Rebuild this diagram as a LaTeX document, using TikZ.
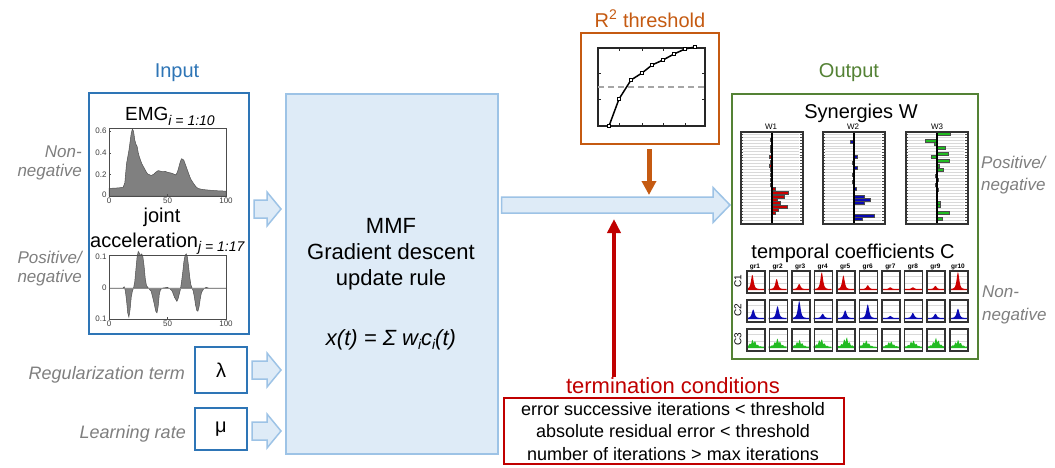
\documentclass[tikz,border=0pt]{standalone}
\usepackage{fontspec}
\setmainfont{Liberation Sans}
\usetikzlibrary{calc,arrows.meta}
\definecolor{inblue}{HTML}{2E75B6}
\definecolor{lblue}{HTML}{DEEBF7}
\definecolor{lbord}{HTML}{9DC3E6}
\definecolor{orng}{HTML}{C55A11}
\definecolor{grn}{HTML}{548235}
\definecolor{dred}{HTML}{C00000}
\definecolor{gtxt}{HTML}{7F7F7F}
\definecolor{pfill}{HTML}{808080}
\definecolor{pedge}{HTML}{505050}
\definecolor{cred}{HTML}{CC0000}
\definecolor{cblue}{HTML}{0A0AB4}
\definecolor{cgreen}{HTML}{22BB22}
\newcommand\fsz[1]{\fontsize{#1}{#1}\selectfont}
\newcommand\blockarrow[6]{%
  \path[#6] let \p1=(#1), \p2=(#2) in
   (\x1,{\y1+#3}) -- ({\x2-#5},{\y1+#3}) -- ({\x2-#5},{\y1+#4}) -- (\x2,\y1)
   -- ({\x2-#5},{\y1-#4}) -- ({\x2-#5},{\y1-#3}) -- (\x1,{\y1-#3}) -- cycle;}
\newcommand\wpanel[5]{%
  \foreach \k in {1,...,30} {%
    \draw[black!15, line width=0.7] ({#2+3},{131+\k*2.97}) -- ({#2+59},{131+\k*2.97});
    \draw[black!70, line width=0.5] ({#2},{131+\k*2.97}) -- ({#2+2.5},{131+\k*2.97})
      ({#2+59.5},{131+\k*2.97}) -- ({#2+62},{131+\k*2.97});}
  \foreach \yy/\ll in {#5} {%
    \filldraw[fill=#4, draw=black!70, line width=0.25] (#3,{\yy-1.4}) rectangle ({#3+\ll},{\yy+1.4});}
  \draw[black, line width=1.5] (#3,131) -- (#3,223);
  \node[draw=black!80, line width=1.6, minimum width=62, minimum height=92, anchor=north west, inner sep=0] (#1) at (#2,131) {};}
\tikzset{
  lbl/.style={inner sep=0, anchor=base},
  side/.style={inner sep=0, text=gtxt, font=\fsz{17}\itshape},
  tick/.style={inner sep=0, font=\fsz{8}, text=black!75},
  blockarr/.style={draw=lbord, fill=lblue, line width=1.5},
  cbox/.style={draw=black!80, line width=1.6, minimum width=18, minimum height=22, anchor=north west, inner sep=0},
}
\begin{document}
\begin{tikzpicture}[x=1pt,y=-1pt]
\useasboundingbox[fill=white] (0,0) rectangle (1055,467);

% ---------- titles
\node[lbl, text=inblue, font=\fsz{20}] (intitle) at (177,77) {Input};
\node[lbl, text=grn, font=\fsz{20}] (outtitle) at (849,77) {Output};
\node[lbl, text=orng, font=\fsz{20}] (r2title) at (650,27) {R\textsuperscript{2} threshold};

% ---------- input box
\node[draw=inblue, line width=2, minimum width=160, minimum height=241, anchor=north west, inner sep=0] (inbox) at (88,92) {};
\node[lbl, anchor=base west, font=\fsz{19}] (emgl) at (125,120) {EMG\raisebox{-5pt}{\fsz{14}\itshape i = 1:10}};
\node[lbl, font=\fsz{20}] (jointl) at (162,222) {joint};
\node[lbl, anchor=base west, font=\fsz{20}] (accl) at (90,247) {acceleration\raisebox{-4pt}{\fsz{14}\itshape j = 1:17}};

% EMG plot
\begin{scope}[shift={(109,196)}, x=1.17pt, y=108pt]
  \filldraw[fill=pfill, draw=pedge, line width=0.5] (0,0) -- plot coordinates {(0,0.07) (8,0.075) (12,0.08) (13.5,0.12) (15,0.3) (17,0.42) (19,0.58) (20,0.62) (21,0.6) (22,0.52) (23,0.48) (24,0.46) (25,0.4) (26,0.36) (27,0.33) (28,0.3) (29,0.28) (30,0.26) (31,0.24) (32,0.22) (33,0.205) (34,0.2) (36,0.19) (38,0.2) (40,0.22) (42,0.235) (44,0.23) (46,0.225) (48,0.228) (50,0.22) (52,0.215) (54,0.21) (56,0.2) (57,0.195) (58,0.21) (59,0.24) (60,0.28) (61,0.32) (62,0.345) (63,0.34) (64,0.33) (65,0.3) (66,0.27) (67,0.24) (68,0.21) (69,0.18) (70,0.155) (72,0.12) (74,0.09) (76,0.07) (80,0.06) (85,0.055) (90,0.05) (100,0.045)} -- (100,0) -- cycle;
  \draw[black!70, line width=0.6] (0,0) rectangle (100,0.63);
  \foreach \v in {0.2,0.4,0.6} {\draw[black!70, line width=0.5] (0,\v) -- (1.5,\v);}
  \foreach \v in {50} {\draw[black!70, line width=0.5] (\v,0) -- (\v,0.02);}
  \node[tick, anchor=east] (e06) at (-2,0.6) {0.6};
  \node[tick, anchor=east] (e04) at (-2,0.4) {0.4};
  \node[tick, anchor=east] (e02) at (-2,0.2) {0.2};
  \node[tick, anchor=east] (e00) at (-2,0.01) {0};
  \node[tick, anchor=north] (ex0) at (0,-0.02) {0};
  \node[tick, anchor=north] (ex50) at (50,-0.02) {50};
  \node[tick, anchor=north] (ex100) at (100,-0.02) {100};
\end{scope}

% acceleration plot
\begin{scope}[shift={(109,288)}, x=1.17pt, y=310pt]
  \filldraw[fill=pfill, draw=pedge, line width=0.5] plot coordinates {(0,0) (12,0) (13,0.004) (14,-0.01) (15,-0.04) (16,-0.08) (17,-0.094) (18,-0.07) (19,-0.03) (20,-0.01) (21,0) (22,0.02) (23,0.06) (24,0.1) (25,0.118) (26,0.112) (27,0.105) (28,0.11) (29,0.1) (30,0.07) (31,0.03) (32,0.008) (34,-0.002) (36,-0.01) (38,-0.04) (40,-0.075) (41,-0.08) (42,-0.06) (43,-0.02) (44,-0.005) (46,0) (50,0.002) (52,-0.002) (54,-0.01) (56,-0.03) (58,-0.043) (59,-0.035) (60,-0.02) (61,-0.005) (62,0.02) (63,0.05) (64,0.085) (65,0.105) (66,0.11) (67,0.1) (68,0.07) (69,0.035) (70,0.01) (71,0) (72,-0.01) (73,-0.03) (74,-0.055) (75,-0.072) (76,-0.075) (77,-0.06) (78,-0.035) (79,-0.015) (81,-0.002) (83,0.002) (85,0) (100,0)} -- cycle;
  \draw[black!45, line width=0.5] (0,0) -- (100,0);
  \draw[black!70, line width=0.6] (0,-0.1) rectangle (100,0.106);
  \draw[black!70, line width=0.5] (50,-0.1) -- (50,-0.094);
  \node[tick, anchor=east] (a01) at (-2,0.1) {0.1};
  \node[tick, anchor=east] (a00) at (-2,0) {0};
  \node[tick, anchor=east] (am01) at (-2,-0.1) {0.1};
  \node[tick, anchor=north] (ax0) at (0,-0.104) {0};
  \node[tick, anchor=north] (ax50) at (50,-0.104) {50};
  \node[tick, anchor=north] (ax100) at (100,-0.104) {100};
\end{scope}

% ---------- left side labels
\node[side, anchor=base east] (nn1) at (82,157) {Non-};
\node[side, anchor=base east] (nn2) at (82,176) {negative};
\node[side, anchor=base east] (pn1) at (82,263) {Positive/};
\node[side, anchor=base east] (pn2) at (82,282) {negative};
\node[side, anchor=base east, font=\fsz{18}\itshape] (regl) at (185,379) {Regularization term};
\node[side, anchor=base east, font=\fsz{18}\itshape] (lrl) at (186,438) {Learning rate};

\node[draw=inblue, line width=2, minimum width=52, minimum height=46, inner sep=0, font=\fsz{20}] (lam) at (221,370) {λ};
\node[draw=inblue, line width=2, minimum width=52, minimum height=42, inner sep=0, font=\fsz{20}] (mu) at (221,429) {μ};

% ---------- MMF box
\node[draw=lbord, fill=lblue, line width=1.5, minimum width=212, minimum height=360, anchor=north west, inner sep=0] (mmf) at (285,93) {};
\node[lbl, font=\fsz{22}] (mmf1) at (391,233) {MMF};
\node[lbl, font=\fsz{22}] (mmf2) at (391,259) {Gradient descent};
\node[lbl, font=\fsz{22}] (mmf3) at (391,285) {update rule};
\node[lbl, font=\fsz{22}\itshape] (formula) at (391,345) {x(t) = Σ w\raisebox{-4pt}{\fsz{14}i}c\raisebox{-4pt}{\fsz{14}i}(t)};

% ---------- input block arrows
\coordinate (ia1) at ($(inbox.east)+(4,-4.5)$);
\coordinate (ia2) at ($(inbox.east -| mmf.west)+(-4,-4.5)$);
\blockarrow{ia1}{ia2}{9pt}{17pt}{14pt}{blockarr}
\coordinate (la1) at ($(lam.east)+(4,0)$);
\coordinate (la2) at ($(lam.east -| mmf.west)+(-4,0)$);
\blockarrow{la1}{la2}{9pt}{17pt}{14pt}{blockarr}
\coordinate (ma1) at ($(mu.east)+(4,2)$);
\coordinate (ma2) at ($(mu.east -| mmf.west)+(-4,2)$);
\blockarrow{ma1}{ma2}{9pt}{17pt}{14pt}{blockarr}

% ---------- R2 box
\node[draw=orng, line width=2, minimum width=138, minimum height=111, anchor=north west, inner sep=0] (r2box) at (580,32) {};
\draw[black!85, line width=1.3] (598,48) rectangle (705,126);
\foreach \xx in {619,642,663,685} {\draw[black!85, line width=0.8] (\xx,126) -- (\xx,123) (\xx,48) -- (\xx,51);}
\foreach \yy in {73,99} {\draw[black!85, line width=0.8] (598,\yy) -- (601,\yy) (705,\yy) -- (702,\yy);}
\draw[black!35, line width=1.3, dash pattern=on 6pt off 4pt] (598,87) -- (705,87);
\draw[black, line width=1.5] plot coordinates {(609,126) (619,99) (631,80) (642,73) (652,65) (663,60) (674,54) (685,49) (695,47)};
\foreach \px/\py in {609/126,619/99,631/80,642/73,652/65,663/60,674/54,685/49,695/47} {
  \draw[black, fill=white, line width=0.8] ({\px-1.8},{\py-1.8}) rectangle ({\px+1.8},{\py+1.8});}

% ---------- output box
\node[draw=grn, line width=2, minimum width=246, minimum height=265, anchor=north west, inner sep=0] (outbox) at (731,93) {};
\node[lbl, font=\fsz{20}] (synl) at (861,118) {Synergies W};
\node[lbl, font=\fsz{8}] (w1l) at (771,129) {W1};
\node[lbl, font=\fsz{8}] (w2l) at (853,129) {W2};
\node[lbl, font=\fsz{8}] (w3l) at (937,129) {W3};
\wpanel{wp1}{740}{772}{cred}{140/-2,147/-2,151/-2,157/-3,162/-2,166/-3,170/-2,175/-2,180/-2,185/-1.5,189/3,193/16,197/12,200/5,203/8,207/15,210/6,213/3}
\wpanel{wp2}{822}{854}{cblue}{142/-4,157/3,163/-2,168/3,175/-1.5,182/-1.5,189/2,197/10,200/16,203/10,216/20,219/8}
\wpanel{wp3}{905}{937}{cgreen}{134/13,141/-12,144/-3,148/8,154/11,157/-6,161/12,166/2,170/6,176/-1.5,180/1.5,185/-1.5,190/1.5,203/3,206/3,213/12,219/5}

\node[lbl, font=\fsz{20}] (tcl) at (853,258) {temporal coefficients C};
\foreach \i in {1,...,10} {\node[lbl, font=\fsz{6.5}\bfseries] (gr\i) at ({755+(\i-1)*22.55},268) {gr\i};}
\node[rotate=90, inner sep=0, font=\fsz{10}] (c1l) at (738,281) {C1};
\node[rotate=90, inner sep=0, font=\fsz{10}] (c2l) at (738,310) {C2};
\node[rotate=90, inner sep=0, font=\fsz{10}] (c3l) at (738,339) {C3};

\foreach \hh/\cc [count=\i from 0] in {0.85/0.35,0.6/0.45,0.3/0.45,1.0/0.45,0.8/0.4,0.22/0.5,0.1/0.5,0.1/0.5,0.18/0.5,1.0/0.5} {
  \begin{scope}[shift={({746+\i*22.55},290)}, x=18pt, y=17pt]
    \draw[black!15, line width=0.5] (0,0.4) -- (1,0.4) (0,0.8) -- (1,0.8);
    \fill[cred] (0,0) -- plot[domain=0:1, samples=31] (\x,{0.06+\hh/((1+(\x-\cc)*(\x-\cc)/0.016)*(1+(\x-\cc)*(\x-\cc)/0.016))}) -- (1,0) -- cycle;
  \end{scope}
  \node[cbox] (c1box\i) at ({746+\i*22.55},270) {};
}
\foreach \hh/\cc [count=\i from 0] in {0.5/0.4,0.7/0.5,1.0/0.45,0.25/0.5,0.45/0.5,0.8/0.5,0.12/0.5,0.3/0.5,0.25/0.5,0.55/0.5} {
  \begin{scope}[shift={({746+\i*22.55},319)}, x=18pt, y=17pt]
    \draw[black!15, line width=0.5] (0,0.4) -- (1,0.4) (0,0.8) -- (1,0.8);
    \fill[cblue] (0,0) -- plot[domain=0:1, samples=31] (\x,{0.06+\hh/((1+(\x-\cc)*(\x-\cc)/0.018)*(1+(\x-\cc)*(\x-\cc)/0.018))}) -- (1,0) -- cycle;
  \end{scope}
  \node[cbox] (c2box\i) at ({746+\i*22.55},299) {};
}
\foreach \hh/\cc [count=\i from 0] in {0.45/0.4,0.5/0.5,0.42/0.45,0.5/0.4,0.6/0.55,0.4/0.4,0.35/0.5,0.4/0.5,0.55/0.55,0.42/0.5} {
  \begin{scope}[shift={({746+\i*22.55},348)}, x=18pt, y=17pt]
    \draw[black!15, line width=0.5] (0,0.4) -- (1,0.4) (0,0.8) -- (1,0.8);
    \fill[cgreen] (0,0) -- plot[domain=0:1, samples=31] (\x,{0.06+\hh*(0.75+0.25*sin(2300*\x+\i*40))/((1+(\x-\cc)*(\x-\cc)/0.08)*(1+(\x-\cc)*(\x-\cc)/0.08))}) -- (1,0) -- cycle;
  \end{scope}
  \node[cbox] (c3box\i) at ({746+\i*22.55},328) {};
}

% ---------- right side labels
\node[side, anchor=base west] (rp1) at (981,168) {Positive/};
\node[side, anchor=base west] (rp2) at (981,190) {negative};
\node[side, anchor=base west] (rn1) at (982,297) {Non-};
\node[side, anchor=base west] (rn2) at (982,320) {negative};

% ---------- output block arrow
\coordinate (oa1) at ($(mmf.east |- 0,205)+(3,0)$);
\coordinate (oa2) at ($(outbox.west |- 0,205)+(-1,0)$);
\blockarrow{oa1}{oa2}{8pt}{17.5pt}{17pt}{blockarr}

% ---------- termination
\node[lbl, text=dred, font=\fsz{22}] (termtitle) at (673,393) {termination conditions};
\node[draw=dred, line width=1.5, minimum width=340, minimum height=66, anchor=north west, inner sep=0] (termbox) at (503,397) {};
\node[lbl, font=\fsz{18}] (t1) at (673,415) {error successive iterations < threshold};
\node[lbl, font=\fsz{18}] (t2) at (673,437) {absolute residual error < threshold};
\node[lbl, font=\fsz{18}] (t3) at (673,460) {number of iterations > max iterations};

% ---------- connectors
\coordinate (r2tip) at (649,195);
\draw[orng, line width=5, shorten <=4pt, -{Triangle[width=14pt,length=14pt]}] (r2box.south -| r2tip) -- (r2tip);
\coordinate (redtip) at (614,219);
\draw[dred, line width=4, -{Triangle[width=13pt,length=14pt]}] (termtitle.north -| redtip) -- (redtip);
\end{tikzpicture}
\end{document}
